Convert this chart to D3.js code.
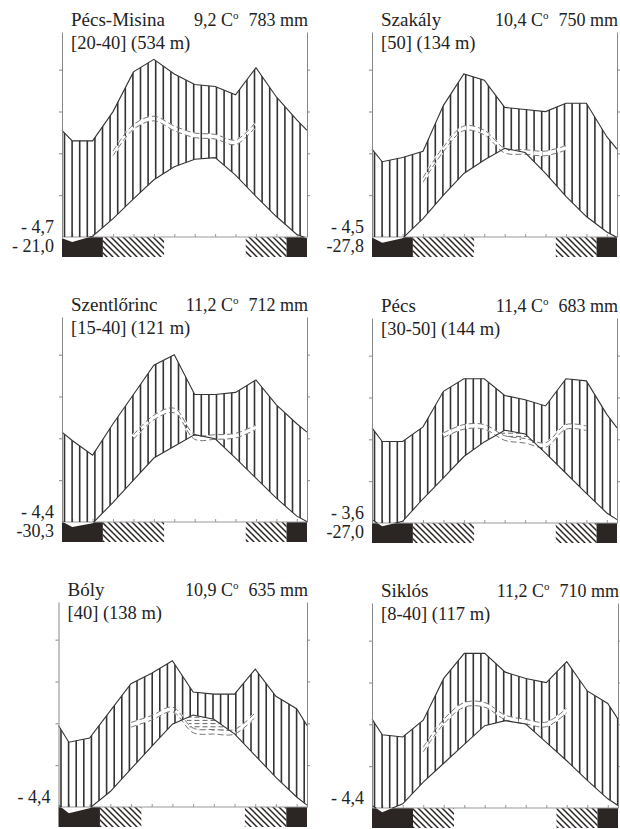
<!DOCTYPE html>
<html><head><meta charset="utf-8">
<script src="https://cdn.jsdelivr.net/npm/d3@7"></script>
<style>body{margin:0;background:#fff} svg{display:block}</style>
</head><body>
<svg id="c" width="620" height="829"></svg>
<script>
// ---------- data ----------
const months = ["Jan","Feb","Mar","Apr","May","Jun","Jul","Aug","Sep","Oct","Nov","Dec"];
const stationNames = ["Pécs-Misina","Szakály","Szentlőrinc","Pécs","Bóly","Siklós"];
const meanTemps = ["9,2","10,4","11,2","11,4","10,9","11,2"];
const annualPrecip = ["783","750","712","683","635","710"];
const periods = ["[20-40]","[50]","[15-40]","[30-50]","[40]","[8-40]"];
const elevations = ["(534 m)","(134 m)","(121 m)","(144 m)","(138 m)","(117 m)"];
const minColdest = ["- 4,7","- 4,5","- 4,4","- 3,6","- 4,4","- 4,4"];
const absMinimum = ["- 21,0","-27,8","-30,3","-27,0","",""];

// monthly mean temperature (°C)
const tempPecsMisina = [-1.2, 0.2, 4.4, 9.1, 13.7, 16.8, 18.6, 19.0, 14.8, 9.7, 4.9, 0.6];
const tempSzakaly    = [-1.4,-0.3, 4.4,10.0, 15.2, 18.4, 21.2, 20.2, 15.2, 9.7, 4.9, 1.2];
const tempSzentlorinc= [-1.2,-0.3, 4.7,10.0, 15.3, 18.1, 20.9, 19.9, 15.3,10.5, 5.7, 1.4];
const tempPecs       = [-0.8, 0.4, 5.8,10.8, 15.9, 19.4, 22.2, 21.3, 16.7,11.9, 7.1, 2.4];
const tempBoly       = [-1.5,-0.3, 3.7, 9.1, 14.5, 19.8, 22.0, 21.0, 17.5,12.3, 7.1, 2.4];
const tempSiklos     = [-1.0, 1.0, 6.2,10.7, 15.2, 19.7, 20.9, 20.1, 15.7,11.3, 6.6, 2.2];

// monthly precipitation (mm)
const precPecsMisina = [46, 46, 60, 79, 85, 78, 73, 72, 68, 81, 67, 56];
const precSzakaly    = [36, 38, 41, 63, 78, 75, 62, 61, 60, 64, 64, 48];
const precSzentlorinc= [39, 32, 47, 61, 75, 80, 61, 61, 62, 68, 56, 47];
const precPecs       = [39, 39, 46, 63, 69, 69, 61, 59, 56, 69, 68, 52];
const precBoly       = [31, 33, 46, 59, 64, 70, 55, 54, 54, 66, 53, 47];
const precSiklos     = [35, 34, 42, 62, 74, 74, 65, 62, 60, 70, 56, 50];

// frost months: B = mean daily minimum below 0, H = absolute minimum below 0, W = frost free
const frostPecsMisina = "BBHHHWWWWHHB";
const frostSzakaly    = "BBHHHWWWWHHB";
const frostSzentlorinc= "BBHHHWWWWHHB";
const frostPecs       = "BBHHHWWWWHHB";
const frostBoly       = "BBHHWWWWWHHB";
const frostSiklos     = "BBHHWWWWWHHB";

// months (index) over which the 1:3 precipitation curve is drawn
const dashFrom = [2, 2, 3, 3, 3, 2];
const dashTo   = [9, 9, 9, 10, 9, 9];

const temps = [tempPecsMisina,tempSzakaly,tempSzentlorinc,tempPecs,tempBoly,tempSiklos];
const precs = [precPecsMisina,precSzakaly,precSzentlorinc,precPecs,precBoly,precSiklos];
const frosts = [frostPecsMisina,frostSzakaly,frostSzentlorinc,frostPecs,frostBoly,frostSiklos];

// ---------- layout ----------
const layout = [
  {left:62,  right:307, base:237},
  {left:372, right:617, base:237},
  {left:62,  right:307, base:522},
  {left:372, right:617, base:523},
  {left:58.5,right:307, base:807},
  {left:372, right:618, base:808}
];
const TICK = 41.8;          // px per 10 °C
const FONT = "'Liberation Serif','Times New Roman',serif";
const LINE = "#333";

const svg = d3.select("#c");
const defs = svg.append("defs");
const pat = defs.append("pattern").attr("id","diag").attr("patternUnits","userSpaceOnUse")
  .attr("width",6).attr("height",6);
pat.append("path").attr("d","M0,0L6,6M-1,5L1,7M5,-1L7,1")
  .attr("stroke","#2b2523").attr("stroke-width",1.5);

function drawPanel(i){
  const L = layout[i];
  const g = svg.append("g");
  const x = d3.scaleLinear().domain([0,12]).range([L.left, L.right]);
  const yT = d3.scaleLinear().domain([0,10]).range([L.base, L.base - TICK]);
  const yP = d3.scaleLinear().domain([0,20]).range([L.base, L.base - TICK]);
  const yD = d3.scaleLinear().domain([0,30]).range([L.base, L.base - TICK]);
  const T = temps[i], P = precs[i];
  const tEdge = (T[0]+T[11])/2, pEdge = (P[0]+P[11])/2;
  const pts = [{m:0,t:tEdge,p:pEdge}]
    .concat(months.map((mm,k)=>({m:k+0.5,t:T[k],p:P[k]})))
    .concat([{m:12,t:tEdge,p:pEdge}]);
  const top = L.base - 205;

  // frost bars (consecutive months of same class merged)
  const fr = frosts[i];
  const runs = [];
  months.forEach((mm,k)=>{
    const c = fr[k];
    if(runs.length && runs[runs.length-1].c===c) runs[runs.length-1].e = k+1;
    else runs.push({c:c,s:k,e:k+1});
  });
  runs.filter(r=>r.c!=="W").forEach(r=>{
    g.append("rect").attr("x",x(r.s)).attr("y",L.base).attr("width",x(r.e)-x(r.s)).attr("height",20)
      .attr("fill", r.c==="B" ? "#2b2523" : "url(#diag)");
  });

  // white wedge where temperature below zero
  const cBelow = "cb"+i;
  defs.append("clipPath").attr("id",cBelow).append("rect")
    .attr("x",L.left).attr("y",L.base).attr("width",L.right-L.left).attr("height",30);
  g.append("path").attr("clip-path",`url(#${cBelow})`)
    .attr("d", d3.area().x(d=>x(d.m)).y0(L.base).y1(d=>yT(d.t))(pts))
    .attr("fill","#fff");

  // baseline + month ticks
  g.append("line").attr("x1",L.left).attr("x2",L.right).attr("y1",L.base).attr("y2",L.base)
    .attr("stroke","#999").attr("stroke-width",1);
  const xAxis = d3.axisTop(x).tickValues(months.map((mm,k)=>k+0.5)).tickSize(3).tickFormat("");
  const ax = g.append("g").attr("transform",`translate(0,${L.base})`).call(xAxis);
  ax.select(".domain").remove();
  ax.selectAll("line").attr("stroke","#999");

  // humid period hatch
  const cAbove = "ca"+i, cArea = "cr"+i;
  defs.append("clipPath").attr("id",cAbove).append("rect")
    .attr("x",L.left).attr("y",top-20).attr("width",L.right-L.left).attr("height",L.base-top+20);
  defs.append("clipPath").attr("id",cArea).append("path")
    .attr("d", d3.area().x(d=>x(d.m)).y0(d=>yT(d.t)).y1(d=>yP(d.p))(pts));
  const h = g.append("g").attr("clip-path",`url(#${cAbove})`)
    .append("g").attr("clip-path",`url(#${cArea})`);
  for(let hx = L.left + 2.5; hx < L.right; hx += 7.6){
    h.append("line").attr("x1",hx).attr("x2",hx).attr("y1",top).attr("y2",L.base)
      .attr("stroke","#333").attr("stroke-width",1.6);
  }

  // dashed 1:3 precipitation curve
  const dpts = d3.range(dashFrom[i], dashTo[i]+1).map(k=>({m:k+0.5,v:P[k]}));
  const dLine = d3.line().x(d=>x(d.m)).y(d=>yD(d.v)).curve(d3.curveCatmullRom);
  // lens between temperature curve and dashed curve (dry period)
  const cUnderT = "cu"+i, cOverD = "co"+i;
  defs.append("clipPath").attr("id",cUnderT).append("path")
    .attr("d", d3.area().x(d=>x(d.m)).y0(d=>yT(d.t)).y1(L.base)(pts));
  defs.append("clipPath").attr("id",cOverD).append("path")
    .attr("d", d3.area().x(d=>x(d.m)).y0(top).y1(d=>yD(d.v)).curve(d3.curveCatmullRom)(dpts));
  const lens = g.append("g").attr("clip-path",`url(#${cUnderT})`)
    .append("g").attr("clip-path",`url(#${cOverD})`);
  for(let ly = top; ly < L.base; ly += 3.2){
    lens.append("line").attr("x1",L.left).attr("x2",L.right).attr("y1",ly).attr("y2",ly)
      .attr("stroke","#555").attr("stroke-width",0.9).attr("stroke-dasharray","5,3");
  }
  g.append("path").attr("d",dLine(dpts)).attr("fill","none")
    .attr("stroke","#fff").attr("stroke-width",5).attr("stroke-dasharray","9,3");
  [-2.3, 2.3].forEach(off=>{
    g.append("path").attr("d",dLine(dpts)).attr("fill","none").attr("transform",`translate(0,${off})`)
      .attr("stroke","#666").attr("stroke-width",0.9).attr("stroke-dasharray","6,3");
  });

  // curves
  g.append("path").attr("d", d3.line().x(d=>x(d.m)).y(d=>yP(d.p))(pts))
    .attr("fill","none").attr("stroke",LINE).attr("stroke-width",1.1);
  g.append("path").attr("clip-path",`url(#${cAbove})`)
    .attr("d", d3.line().x(d=>x(d.m)).y(d=>yT(d.t))(pts))
    .attr("fill","none").attr("stroke",LINE).attr("stroke-width",1.1);

  // vertical axes
  const yAxisScale = d3.scaleLinear().domain([0,49]).range([L.base, top]);
  const lAx = g.append("g").attr("transform",`translate(${L.left},0)`)
    .call(d3.axisLeft(yAxisScale).tickValues([10,20,30,40]).tickSize(3).tickFormat("").tickSizeOuter(0));
  const rAx = g.append("g").attr("transform",`translate(${L.right},0)`)
    .call(d3.axisRight(yAxisScale).tickValues([10,20,30,40]).tickSize(3).tickFormat("").tickSizeOuter(0));
  [lAx,rAx].forEach(a=>{ a.selectAll("line,path").attr("stroke","#888"); });

  // texts
  const txt = (s,tx,ty,anchor,fs)=> g.append("text").attr("x",tx).attr("y",ty)
    .attr("text-anchor",anchor||"start").attr("font-family",FONT).attr("font-size",fs||18)
    .attr("fill","#222").text(s);
  txt(stationNames[i], L.left+9, L.base-211, "start", 19);
  const mmT = txt(annualPrecip[i]+" mm", L.right+1, L.base-211, "end");
  const w = mmT.node().getComputedTextLength();
  const tT = g.append("text").attr("x",L.right+1-w-10).attr("y",L.base-211).attr("text-anchor","end")
    .attr("font-family",FONT).attr("font-size",18).attr("fill","#222");
  tT.append("tspan").text(meanTemps[i]+" C");
  tT.append("tspan").attr("font-size",11).attr("dy",-7).text("o");
  txt(periods[i]+" "+elevations[i], L.left+9, L.base-188, "start", 18.5);
  txt(minColdest[i], L.left-8, L.base-4, "end");
  if(absMinimum[i]) txt(absMinimum[i], L.left-8, L.base+15, "end");
}
d3.range(6).forEach(drawPanel);
</script>
</body></html>
